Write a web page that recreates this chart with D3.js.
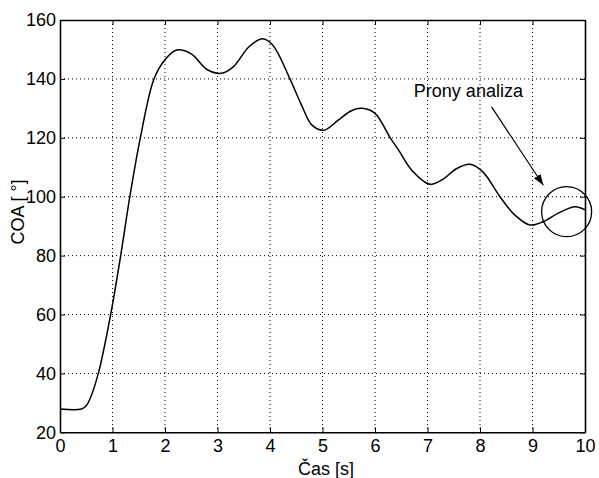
<!DOCTYPE html>
<html>
<head>
<meta charset="utf-8">
<script src="https://cdn.jsdelivr.net/npm/d3@7"></script>
<style>
html,body{margin:0;padding:0;background:#fff;}
svg{display:block;font-family:"Liberation Sans",Arial,sans-serif;}
</style>
</head>
<body>
<svg id="chart" width="599" height="478"></svg>
<script>
const timeValues = [0,0.41,0.5,0.57,0.73,0.965,1.156,1.33,1.53,1.79,2.0,2.22,2.5,2.8,3.07,3.3,3.6,3.86,4.05,4.38,4.6,4.8,5.03,5.3,5.55,5.75,6.0,6.29,6.45,6.7,7.05,7.3,7.55,7.81,8.05,8.38,8.65,8.95,9.2,9.5,9.81,10];
const coaValues = [27.9,27.9,29,31.3,40,60,80,100,120,140,146.5,149.8,148.5,143.2,141.9,144.1,150.9,153.6,151.5,140,131.1,124.3,122.6,126,129.2,130,128.3,120,115.8,109,104.2,106,109.5,111,108.5,100,94,90.4,91.5,94.5,96.6,95.5];
const xTicks = [0,1,2,3,4,5,6,7,8,9,10];
const yTicks = [20,40,60,80,100,120,140,160];
const xLabel = "Čas [s]";
const yLabel = "COA [ °]";
const annotationText = "Prony analiza";
const circleCenter = [9.65, 94.9];
const arrowStart = [8.22, 130.5];
const arrowEnd = [9.206, 103.9];
const textAnchorPoint = [6.74, 134];

const FS = 18;
const svg = d3.select("#chart");
const L = 60, R = 585, T = 20, B = 432.3;
const x = d3.scaleLinear().domain([0,10]).range([L,R]);
const y = d3.scaleLinear().domain([20,160]).range([B,T]);

// grid
const grid = svg.append("g").attr("stroke","#000").attr("stroke-width",1).attr("stroke-dasharray","1,3");
xTicks.slice(1,-1).forEach(t=>{
  grid.append("line").attr("x1",x(t)).attr("x2",x(t)).attr("y1",T).attr("y2",B);
});
yTicks.slice(1,-1).forEach(v=>{
  grid.append("line").attr("x1",L).attr("x2",R).attr("y1",y(v)).attr("y2",y(v));
});

// axes
function styleAxis(g){
  g.select(".domain").attr("stroke","#000").attr("stroke-width",1.6);
  g.selectAll(".tick line").attr("stroke","#000").attr("stroke-width",1);
  g.selectAll("text").attr("font-size",FS).attr("fill","#000").attr("font-family","'Liberation Sans',Arial,sans-serif");
}
svg.append("g").attr("transform",`translate(0,${B})`)
  .call(d3.axisBottom(x).tickValues(xTicks).tickFormat(d3.format("d")).tickSizeInner(-5).tickSizeOuter(0).tickPadding(7))
  .call(styleAxis);
svg.append("g").attr("transform",`translate(0,${T})`)
  .call(d3.axisTop(x).tickValues(xTicks).tickFormat("").tickSizeInner(-5).tickSizeOuter(0))
  .call(styleAxis);
svg.append("g").attr("transform",`translate(${L},0)`)
  .call(d3.axisLeft(y).tickValues(yTicks).tickFormat(d3.format("d")).tickSizeInner(-5).tickSizeOuter(0).tickPadding(4))
  .call(styleAxis);
svg.append("g").attr("transform",`translate(${R},0)`)
  .call(d3.axisRight(y).tickValues(yTicks).tickFormat("").tickSizeInner(-5).tickSizeOuter(0))
  .call(styleAxis);

// line
const data = timeValues.map((t,i)=>[t,coaValues[i]]);
svg.append("path").datum(data)
  .attr("fill","none").attr("stroke","#000").attr("stroke-width",1.5)
  .attr("d", d3.line().x(d=>x(d[0])).y(d=>y(d[1])).curve(d3.curveCatmullRom.alpha(0.5)));

// labels
svg.append("text").attr("x",326).attr("y",475).attr("text-anchor","middle")
  .attr("font-size",FS).text(xLabel);
svg.append("text").attr("transform","translate(24,212) rotate(-90)").attr("text-anchor","middle")
  .attr("font-size",FS).text(yLabel);

// annotation
svg.append("defs").append("marker").attr("id","arrow")
  .attr("viewBox","0 0 10 10").attr("refX",10).attr("refY",5)
  .attr("markerWidth",11).attr("markerHeight",11).attr("markerUnits","userSpaceOnUse")
  .attr("orient","auto")
  .append("path").attr("d","M0,1.5 L10,5 L0,8.5 Z").attr("fill","#000");
svg.append("line")
  .attr("x1",x(arrowStart[0])).attr("y1",y(arrowStart[1]))
  .attr("x2",x(arrowEnd[0])).attr("y2",y(arrowEnd[1]))
  .attr("stroke","#000").attr("stroke-width",1.2).attr("marker-end","url(#arrow)");
svg.append("circle").attr("cx",x(circleCenter[0])).attr("cy",y(circleCenter[1])).attr("r",25)
  .attr("fill","none").attr("stroke","#000").attr("stroke-width",1.3);
svg.append("text").attr("x",x(textAnchorPoint[0])).attr("y",y(textAnchorPoint[1]))
  .attr("font-size",FS).text(annotationText);
</script>
</body>
</html>
